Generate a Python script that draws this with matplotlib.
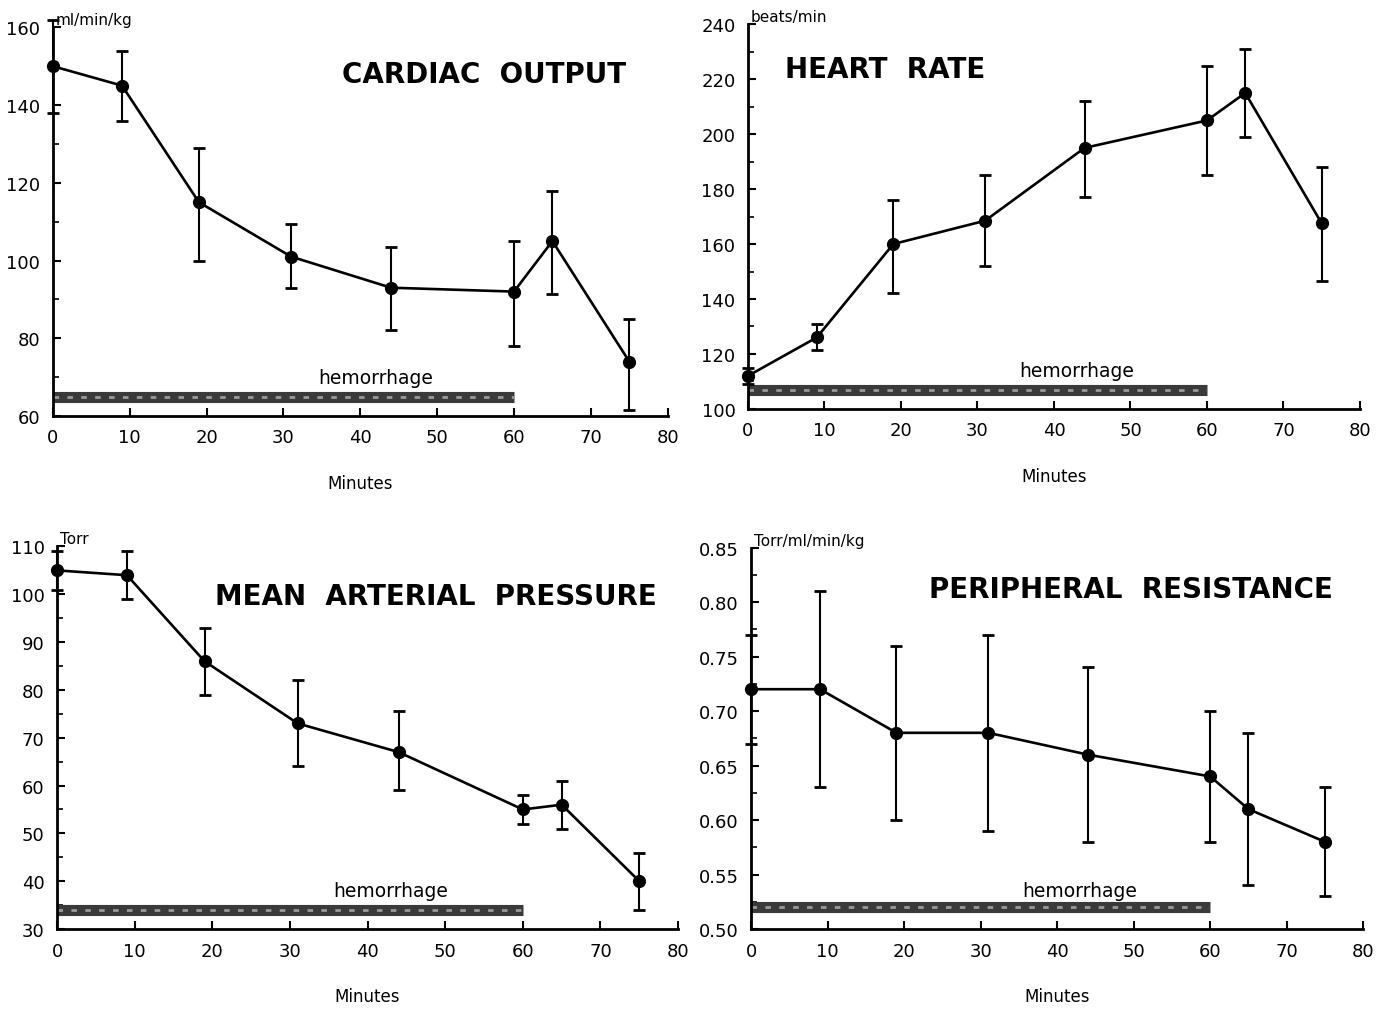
import matplotlib
matplotlib.use("Agg")
import matplotlib.pyplot as plt
from matplotlib.ticker import MultipleLocator

plt.rcParams['font.family'] = ['DejaVu Sans']

minutes = [0, 9, 19, 31, 44, 60, 65, 75]

co_mean = [150, 145, 115, 101, 93, 92, 105, 74]
co_upper = [162, 154, 129, 109.5, 103.5, 105, 118, 85]
co_lower = [138, 136, 100, 93, 82, 78, 91.5, 61.5]

hr_mean = [112, 126, 160, 168.5, 195, 205, 215, 167.5]
hr_upper = [115, 131, 176, 185, 212, 225, 231, 188]
hr_lower = [109, 121.5, 142, 152, 177, 185, 199, 146.5]

map_mean = [105, 104, 86, 73, 67, 55, 56, 40]
map_upper = [109, 109, 93, 82, 75.5, 58, 61, 46]
map_lower = [101, 99, 79, 64, 59, 52, 51, 34]

pr_mean = [0.72, 0.72, 0.68, 0.68, 0.66, 0.64, 0.61, 0.58]
pr_upper = [0.77, 0.81, 0.76, 0.77, 0.74, 0.70, 0.68, 0.63]
pr_lower = [0.67, 0.63, 0.60, 0.59, 0.58, 0.58, 0.54, 0.53]

hem_start, hem_end = 0, 60

panels = [
    dict(rect=[0.038, 0.588, 0.442, 0.384], mean=co_mean, up=co_upper, lo=co_lower,
         ylim=(60, 160), major=20, minor=10, unit="ml/min/kg", title="CARDIAC  OUTPUT",
         tpos=(0.933, 0.88), tha='right', hem_y=65, hem_text=(42, 67.5), fmt="{:.0f}"),
    dict(rect=[0.5377, 0.595, 0.44, 0.380], mean=hr_mean, up=hr_upper, lo=hr_lower,
         ylim=(100, 240), major=20, minor=10, unit="beats/min", title="HEART  RATE",
         tpos=(0.06, 0.885), tha='left', hem_y=107, hem_text=(43, 110.5), fmt="{:.0f}"),
    dict(rect=[0.041, 0.081, 0.4465, 0.378], mean=map_mean, up=map_upper, lo=map_lower,
         ylim=(30, 110), major=10, minor=5, unit="Torr", title="MEAN  ARTERIAL  PRESSURE",
         tpos=(0.966, 0.87), tha='right', hem_y=34, hem_text=(43, 36), fmt="{:.0f}"),
    dict(rect=[0.54, 0.081, 0.44, 0.377], mean=pr_mean, up=pr_upper, lo=pr_lower,
         ylim=(0.50, 0.85), major=0.05, minor=0.025, unit="Torr/ml/min/kg",
         title="PERIPHERAL  RESISTANCE", tpos=(0.951, 0.89), tha='right', hem_y=0.52,
         hem_text=(43, 0.527), fmt="{:.2f}"),
]

fig = plt.figure(figsize=(13.91, 10.12), dpi=100)

for p in panels:
    ax = fig.add_axes(p['rect'])
    ax.set_xlim(0, 80)
    ax.set_ylim(*p['ylim'])
    for s in ['top', 'right']:
        ax.spines[s].set_visible(False)
    for s in ['left', 'bottom']:
        ax.spines[s].set_linewidth(2)
    ax.xaxis.set_major_locator(MultipleLocator(10))
    ax.yaxis.set_major_locator(MultipleLocator(p['major']))
    ax.yaxis.set_minor_locator(MultipleLocator(p['minor']))
    ax.tick_params(axis='both', which='major', direction='in', length=6, width=1.5,
                   labelsize=13, pad=9)
    ax.tick_params(axis='y', which='minor', direction='in', length=4, width=1.2)
    ax.yaxis.set_major_formatter(matplotlib.ticker.FuncFormatter(
        lambda v, pos, f=p['fmt']: f.format(v)))
    yerr = [[m - l for m, l in zip(p['mean'], p['lo'])],
            [u - m for m, u in zip(p['mean'], p['up'])]]
    ax.errorbar(minutes, p['mean'], yerr=yerr, fmt='-o', color='black', lw=1.9,
                ms=8.5, elinewidth=1.5, capsize=4, capthick=2, clip_on=False, zorder=3)
    ax.hlines(p['hem_y'], hem_start, hem_end, colors='#3a3a3a', lw=8, zorder=2)
    ax.hlines(p['hem_y'], hem_start, hem_end, colors='#9a9a9a', lw=2,
              linestyles=(0, (2, 3)), zorder=2)
    ax.text(p['hem_text'][0], p['hem_text'][1], "hemorrhage", fontsize=13.5,
            ha='center', va='bottom')
    ax.text(p['tpos'][0], p['tpos'][1], p['title'], transform=ax.transAxes,
            fontsize=20, fontweight='bold', ha=p['tha'], va='center')
    ax.text(0.005, 1.0, p['unit'], transform=ax.transAxes, fontsize=11,
            ha='left', va='bottom')
    ax.set_xlabel("Minutes", fontsize=12, labelpad=20)

fig.savefig("out.png", dpi=100, facecolor='white')
